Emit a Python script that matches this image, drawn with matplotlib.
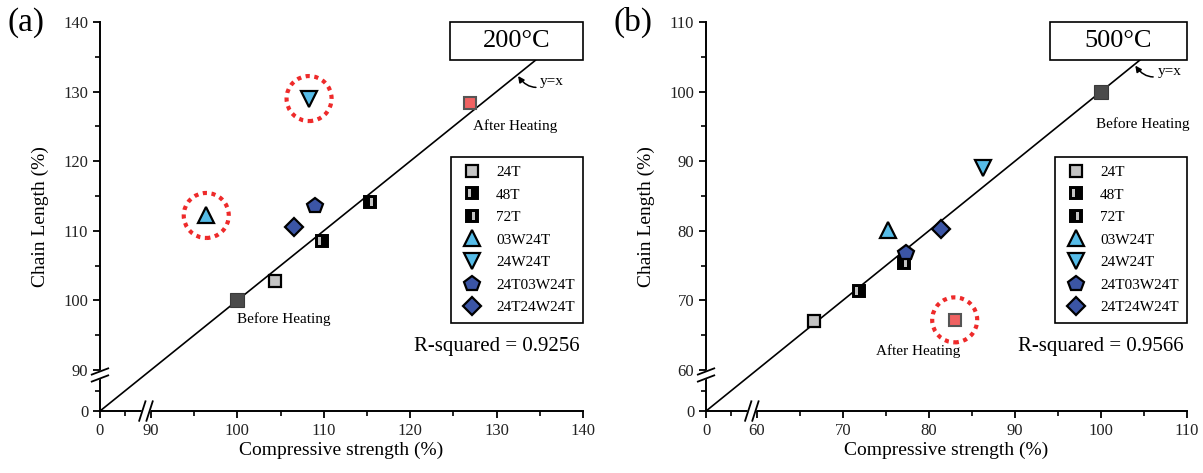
import numpy as np
import matplotlib
matplotlib.use("Agg")
import matplotlib.pyplot as plt
from matplotlib.path import Path
from matplotlib.patches import Rectangle

plt.rcParams["font.family"] = ["Liberation Serif", "DejaVu Serif"]

# ---- data ----
series_labels = ["24T", "48T", "72T", "03W24T", "24W24T", "24T03W24T", "24T24W24T"]

a_strength = [104.4, 109.8, 115.4, 96.4, 108.3, 109.0, 106.6]
a_chain = [102.8, 108.5, 114.1, 112.2, 129.0, 113.5, 110.5]
a_before = [100.0, 100.0]
a_after = [126.9, 128.3]

b_strength = [66.6, 71.9, 77.1, 75.3, 86.3, 77.3, 81.4]
b_chain = [67.0, 71.35, 75.4, 80.1, 89.0, 76.8, 80.3]
b_before = [100.0, 100.0]
b_after = [83.0, 67.2]

a_ticks = [0, 90, 100, 110, 120, 130, 140]
b_ticks = [0, 60, 70, 80, 90, 100, 110]

temps = ["200°C", "500°C"]
r_squared = [0.9256, 0.9566]
panel_tags = ["(a)", "(b)"]

# ---- styles ----
light_blue = "#56bce8"
dark_blue = "#3b55a5"
grey = "#c4c4c4"


def striped_square(x0, x1):
    outer = [(-1, -1), (1, -1), (1, 1), (-1, 1), (-1, -1)]
    hole = [(x0, -0.62), (x0, 0.62), (x1, 0.62), (x1, -0.62), (x0, -0.62)]
    codes = [Path.MOVETO, Path.LINETO, Path.LINETO, Path.LINETO, Path.CLOSEPOLY] * 2
    return Path(outer + hole, codes)


mark48 = striped_square(-0.7, -0.15)
mark72 = striped_square(0.05, 0.55)

styles = [
    [dict(marker="s", ms=8, mfc=grey, mec="black", mew=1.6)],
    [dict(marker="s", ms=8.5, mfc=grey, mec="black", mew=1.4),
     dict(marker=mark48, ms=8.5, mfc="black", mew=0)],
    [dict(marker="s", ms=8.5, mfc=grey, mec="black", mew=1.4),
     dict(marker=mark72, ms=8.5, mfc="black", mew=0)],
    [dict(marker="^", ms=11, mfc=light_blue, mec="black", mew=1.6)],
    [dict(marker="v", ms=11, mfc=light_blue, mec="black", mew=1.6)],
    [dict(marker="p", ms=11.5, mfc=dark_blue, mec="black", mew=1.6)],
    [dict(marker="D", ms=9, mfc=dark_blue, mec="black", mew=1.6)],
]


def broken(brk, k=5.9):
    def fwd(v):
        v = np.asarray(v, dtype=float)
        return np.where(v <= brk, v * k / brk, k + v - brk)

    def inv(u):
        u = np.asarray(u, dtype=float)
        return np.where(u <= k, u * brk / k, u - k + brk)

    return fwd, inv


panels = [
    dict(x=a_strength, y=a_chain, before=a_before, after=a_after, ticks=a_ticks,
         circled=[(a_strength[3], a_chain[3]), (a_strength[4], a_chain[4])],
         line_end=134.5, yx_pt=132.4,
         before_txt=(105.4, 97.3), after_txt=(132.1, 125.1), box_x=0.7246),
    dict(x=b_strength, y=b_chain, before=b_before, after=b_after, ticks=b_ticks,
         circled=[tuple(b_after)],
         line_end=104.7, yx_pt=103.9,
         before_txt=(104.8, 95.3), after_txt=(78.7, 62.7), box_x=0.715),
]

fig = plt.figure(figsize=(12.03, 4.73), dpi=100)
ax_boxes = [[0.0831, 0.131, 0.4015, 0.8225], [0.5869, 0.131, 0.3998, 0.8225]]

for i, p in enumerate(panels):
    ax = fig.add_axes(ax_boxes[i])
    brk = p["ticks"][1]
    top = p["ticks"][-1]
    fwd, inv = broken(brk)
    ax.set_xscale("function", functions=(fwd, inv))
    ax.set_yscale("function", functions=(fwd, inv))
    ax.set_xlim(0, top)
    ax.set_ylim(0, top)

    minor = [brk / 2] + [t + 5 for t in p["ticks"][1:-1]]
    ax.set_xticks(p["ticks"])
    ax.set_yticks(p["ticks"])
    ax.set_xticks(minor, minor=True)
    ax.set_yticks(minor, minor=True)
    ax.set_xticklabels([str(t) for t in p["ticks"]])
    ax.set_yticklabels([str(t) for t in p["ticks"]])
    ax.tick_params(which="major", direction="out", length=5, width=1.3,
                   labelsize=12, colors="black", labelcolor="#222222")
    ax.tick_params(which="minor", direction="out", length=3.5, width=1.2)
    for s in ["top", "right"]:
        ax.spines[s].set_visible(False)
    for s in ["left", "bottom"]:
        ax.spines[s].set_linewidth(1.4)

    # y = x reference line
    ax.plot([0, p["line_end"]], [0, p["line_end"]], color="black", lw=1.2, zorder=2)
    ax.annotate("y=x", xy=(p["yx_pt"], p["yx_pt"]), xytext=(25, -5),
                textcoords="offset points", ha="center", va="center", fontsize=11,
                arrowprops=dict(arrowstyle="-|>", color="black", lw=1.1,
                                mutation_scale=9, shrinkA=1, shrinkB=1,
                                connectionstyle="arc3,rad=-0.5"))

    handles = []
    for j, lab in enumerate(series_labels):
        layers = []
        for st in styles[j]:
            (h,) = ax.plot([p["x"][j]], [p["y"][j]], ls="none", zorder=4, **st)
            layers.append(h)
        handles.append(tuple(layers) if len(layers) > 1 else layers[0])

    ax.plot(*p["before"], ls="none", marker="s", ms=9.5, mfc="#4a4a4a",
            mec="#3a3a3a", mew=0.8, zorder=4)
    ax.plot(*p["after"], ls="none", marker="s", ms=8, mfc="#f06262",
            mec="#555555", mew=1.5, zorder=4)
    ax.text(*p["before_txt"], "Before Heating", ha="center", va="center", fontsize=11)
    ax.text(*p["after_txt"], "After Heating", ha="center", va="center", fontsize=11)

    cx = [c[0] for c in p["circled"]]
    cy = [c[1] for c in p["circled"]]
    ax.scatter(cx, cy, s=1050, facecolors="none", edgecolors="#ee2a2a",
               linewidths=3.0, linestyles=(0, (1, 1.1)), zorder=3)

    leg = ax.legend(handles, series_labels, loc="upper right",
                    bbox_to_anchor=(1.0, 0.653), fontsize=11, frameon=True,
                    fancybox=False, edgecolor="black", framealpha=1,
                    handlelength=1.6, handletextpad=0.8, borderpad=0.55,
                    labelspacing=0.58, borderaxespad=0)
    leg.get_frame().set_linewidth(1.2)

    ax.text(0.994, 0.165, f"R-squared = {r_squared[i]}", transform=ax.transAxes,
            ha="right", va="center", fontsize=15)

    bx = p["box_x"]
    ax.add_patch(Rectangle((bx, 0.902), 1 - bx, 0.098, transform=ax.transAxes,
                           facecolor="white", edgecolor="black", lw=1.2,
                           clip_on=False, zorder=5))
    ax.text((bx + 1) / 2, 0.951, temps[i], transform=ax.transAxes, ha="center",
            va="center", fontsize=19, zorder=6)

    ax.set_xlabel("Compressive strength (%)", fontsize=14, labelpad=2)
    ax.set_ylabel("Chain Length (%)", fontsize=14, labelpad=10)

    # axis break marks
    xf = float(fwd(brk) / fwd(top)) - 5 / 483
    yf = float(fwd(brk) / fwd(top)) - 5 / 389
    kw = dict(transform=ax.transAxes, clip_on=False, color="black", lw=1.3, zorder=6)
    ddx, sx, sy = 0.0075, 0.0065, 0.025
    ax.fill([xf - ddx - sx, xf + ddx - sx, xf + ddx + sx, xf - ddx + sx],
            [-sy, -sy, sy, sy], color="white", transform=ax.transAxes,
            clip_on=False, zorder=5)
    for d in (-ddx, ddx):
        ax.plot([xf + d - sx, xf + d + sx], [-sy, sy], **kw)
    ddy, tx, ty = 0.009, 0.017, 0.008
    ax.fill([-tx, tx, tx, -tx], [yf - ddy - ty, yf - ddy + ty, yf + ddy + ty, yf + ddy - ty],
            color="white", transform=ax.transAxes, clip_on=False, zorder=5)
    for d in (-ddy, ddy):
        ax.plot([-tx, tx], [yf + d - ty, yf + d + ty], **kw)

fig.text(0.006, 0.985, panel_tags[0], ha="left", va="top", fontsize=24)
fig.text(0.510, 0.985, panel_tags[1], ha="left", va="top", fontsize=24)

fig.savefig("out.png", dpi=100)
